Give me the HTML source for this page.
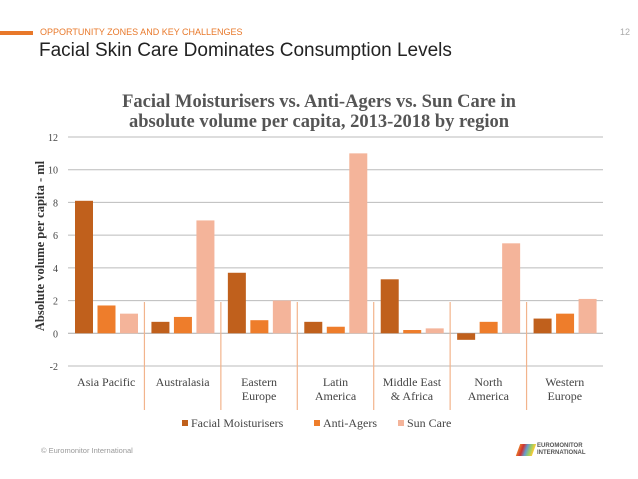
<!DOCTYPE html>
<html><head><meta charset="utf-8"><style>
body{margin:0;width:638px;height:479px;background:#fff;position:relative;overflow:hidden;font-family:"Liberation Sans",sans-serif}
.a{position:absolute}
</style></head><body>
<div class="a" style="left:0;top:31px;width:33px;height:4px;background:#e8782a"></div>
<div class="a" style="left:40px;top:27px;font-size:9px;color:#e8782a">OPPORTUNITY ZONES AND KEY CHALLENGES</div>
<div class="a" style="left:620px;top:27px;font-size:9px;color:#aaa">12</div>
<div class="a" style="left:39px;top:40px;font-size:19px;color:#222">Facial Skin Care Dominates Consumption Levels</div>
<svg class="a" style="left:0;top:0" width="638" height="479" id="c"></svg>
<div class="a" style="left:41px;top:446px;font-size:7.5px;color:#999">© Euromonitor International</div>
<div class="a" style="left:518px;top:443px;width:80px;height:14px">
<div class="a" style="left:0;top:1px;width:16px;height:12px;background:linear-gradient(90deg,#e8782a,#c33,#69c,#9c6,#fc3);transform:skewX(-20deg)"></div>
<div class="a" style="left:19px;top:0;font-size:6px;line-height:7px;font-weight:bold;color:#555">EUROMONITOR<br>INTERNATIONAL</div></div>
<script>
const categories=[["Asia Pacific"],["Australasia"],["Eastern","Europe"],["Latin","America"],["Middle East","& Africa"],["North","America"],["Western","Europe"]];
const seriesNames=["Facial Moisturisers","Anti-Agers","Sun Care"];
const facial=[8.1,0.7,3.7,0.7,3.3,-0.4,0.9];
const antiAgers=[1.7,1.0,0.8,0.4,0.2,0.7,1.2];
const sunCare=[1.2,6.9,2.0,11.0,0.3,5.5,2.1];
const ticks=[-2,0,2,4,6,8,10,12];
const colors=["#c0601c","#ee7d2b","#f4b49a"];
const svg=document.getElementById('c');const NS="http://www.w3.org/2000/svg";
const L=68,R=603,T=137,B=366,ymin=-2,ymax=12;
const y=v=>B-(v-ymin)/(ymax-ymin)*(B-T);
const gw=(R-L)/categories.length;
function mk(t,a,txt){const e=document.createElementNS(NS,t);for(const k in a)e.setAttribute(k,a[k]);if(txt!==undefined)e.textContent=txt;svg.appendChild(e);return e;}
let e=mk('text',{x:319,y:107,'text-anchor':'middle','font-family':'"Liberation Serif",serif','font-weight':'bold','font-size':18.5,fill:'#555'},'Facial Moisturisers vs. Anti-Agers vs. Sun Care in');


e=mk('text',{x:319,y:127,'text-anchor':'middle','font-family':'"Liberation Serif",serif','font-weight':'bold','font-size':18.5,fill:'#555'},'absolute volume per capita, 2013-2018 by region');


ticks.forEach(t=>{
 e=mk('line',{x1:L,x2:R,y1:y(t),y2:y(t),stroke:t==0?'#aaa':'#bbb','stroke-width':1});
 
 
 e=mk('text',{x:58,y:y(t)+4,'text-anchor':'end','font-family':'"Liberation Serif",serif','font-size':10,fill:'#444'},t);
 
 
});
e=mk('text',{x:0,y:0,transform:'translate(44,246) rotate(-90)','text-anchor':'middle','font-family':'"Liberation Serif",serif','font-weight':'bold','font-size':12.5,fill:'#333'},'Absolute volume per capita - ml');


const series=[facial,antiAgers,sunCare];
categories.forEach((c,i)=>{
 const gx=L+i*gw;
 if(i>0){e=mk('line',{x1:gx,x2:gx,y1:302,y2:410,stroke:'#f2b48c','stroke-width':1.2});
 
 }
 series.forEach((s,j)=>{
  const v=s[i];const bx=gx+7+j*22.5;
  e=mk('rect',{x:bx,y:Math.min(y(v),y(0)),width:18,height:Math.abs(y(v)-y(0)),fill:colors[j]});
  
  
 });
 c.forEach((ln,k)=>{
  e=mk('text',{x:gx+gw/2,y:386+k*14,'text-anchor':'middle','font-family':'"Liberation Serif",serif','font-size':12,fill:'#444'},ln);
  
  
 });
});
let lx=[182,314,398];
seriesNames.forEach((n,j)=>{
 e=mk('rect',{x:lx[j],y:420,width:6,height:6,fill:colors[j]});
 
 
 e=mk('text',{x:lx[j]+9,y:427,'font-family':'"Liberation Serif",serif','font-size':12,fill:'#444'},n);
 
 
});
</script>
</body></html>
